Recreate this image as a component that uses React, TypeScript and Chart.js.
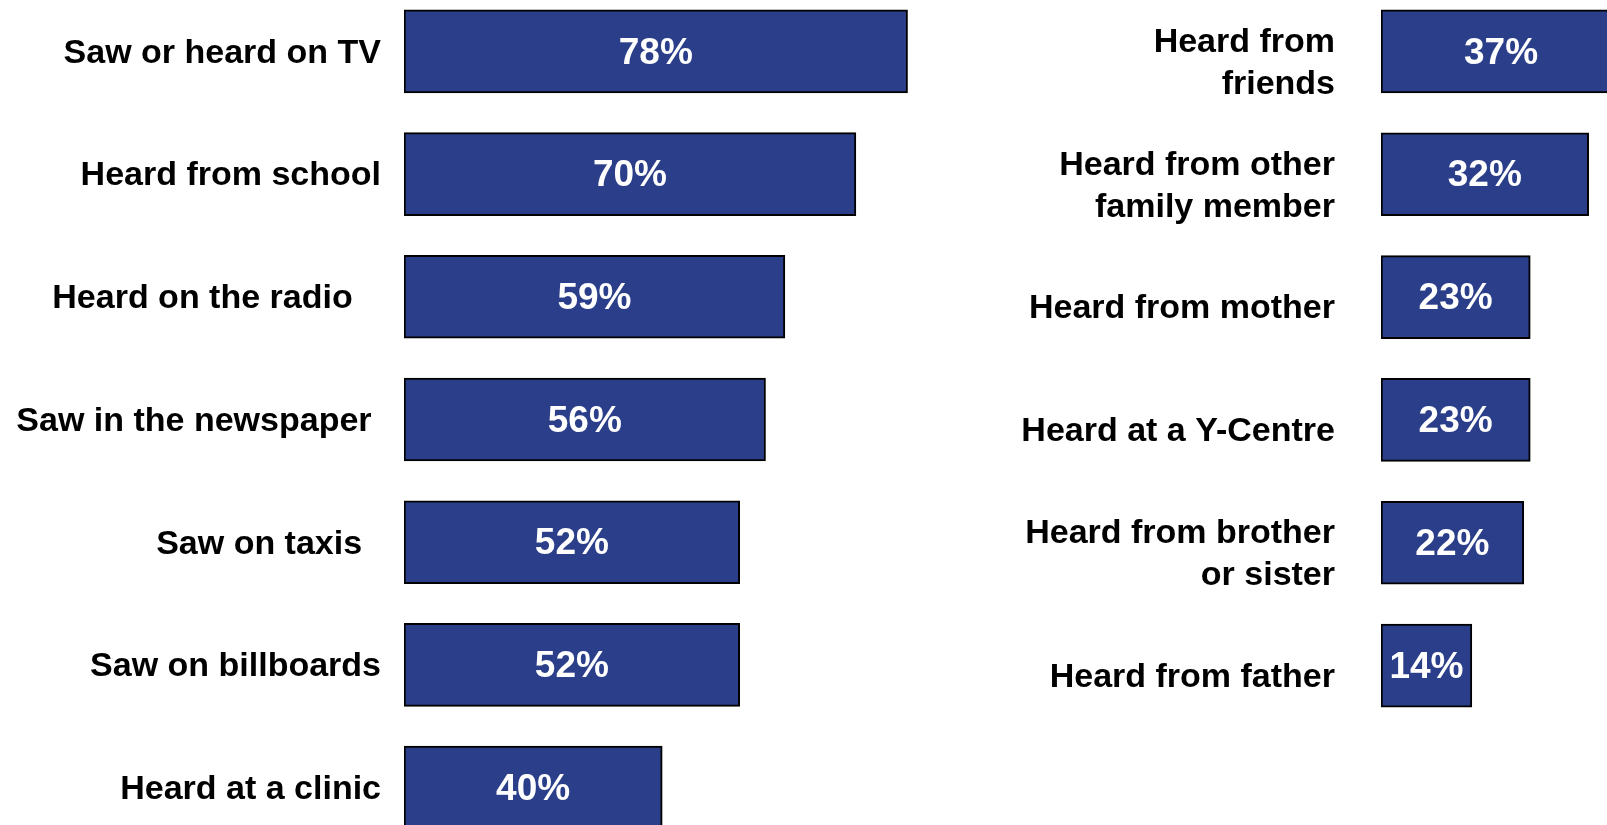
import React, { useEffect, useRef } from 'react';
import { Chart, registerables } from 'chart.js';

Chart.register(...registerables);

// ---- data ----
const leftCategories: (string | string[])[] = [
  'Saw or heard on TV',
  'Heard from school',
  'Heard on the radio   ',
  'Saw in the newspaper ',
  'Saw on taxis  ',
  'Saw on billboards',
  'Heard at a clinic',
];
const leftValues = [78, 70, 59, 56, 52, 52, 40];

const rightCategories: (string | string[])[] = [
  ['Heard from', 'friends'],
  ['Heard from other', 'family member'],
  'Heard from mother',
  'Heard at a Y-Centre',
  ['Heard from brother', 'or sister'],
  'Heard from father',
];
const rightValues = [37, 32, 23, 23, 22, 14];

// ---- styles ----
const BAR_COLOR = '#2b3e89';
const FONT = '"Liberation Sans", Arial, Helvetica, sans-serif';

const valueLabelPlugin = {
  id: 'valueLabels',
  afterDatasetsDraw(chart: any) {
    const ctx = chart.ctx;
    ctx.save();
    ctx.fillStyle = '#ffffff';
    ctx.font = `bold 37px ${FONT}`;
    ctx.textAlign = 'center';
    ctx.textBaseline = 'middle';
    chart.data.datasets.forEach((ds: any, di: number) => {
      const meta = chart.getDatasetMeta(di);
      meta.data.forEach((el: any, i: number) => {
        const { x, y, base } = el.getProps(['x', 'y', 'base'], true);
        ctx.fillText(`${ds.data[i]}%`, (x + base) / 2, y + 2);
      });
    });
    ctx.restore();
  },
};

type PanelProps = {
  labels: (string | string[])[];
  values: number[];
  left: number;
  top: number;
  width: number;
  height: number;
  axisWidth: number;
  max: number;
  tickPadding: number;
  labelOffset: number;
};

function Panel(p: PanelProps) {
  const ref = useRef<HTMLCanvasElement | null>(null);
  useEffect(() => {
    if (!ref.current) return;
    const chart = new Chart(ref.current, {
      type: 'bar',
      data: {
        labels: p.labels as any,
        datasets: [
          {
            data: p.values,
            backgroundColor: BAR_COLOR,
            borderColor: '#000000',
            borderWidth: 2,
            borderSkipped: false,
            barThickness: 83,
          },
        ],
      },
      options: {
        indexAxis: 'y',
        responsive: false,
        maintainAspectRatio: false,
        animation: false,
        devicePixelRatio: 1,
        layout: { padding: 0 },
        plugins: {
          legend: { display: false },
          tooltip: { enabled: false },
        },
        scales: {
          x: {
            display: false,
            min: 0,
            max: p.max,
          },
          y: {
            grid: { display: false, drawTicks: false },
            border: { display: false },
            ticks: {
              color: '#000000',
              padding: p.tickPadding,
              labelOffset: p.labelOffset,
              autoSkip: false,
              font: { family: FONT, size: 34, weight: 'bold', lineHeight: 1.24 },
            },
            afterFit: (scale: any) => {
              scale.width = p.axisWidth;
              scale.paddingTop = 0;
              scale.paddingBottom = 0;
            },
          },
        },
      },
      plugins: [valueLabelPlugin],
    } as any);
    return () => chart.destroy();
  }, []);
  return (
    <canvas
      ref={ref}
      width={p.width}
      height={p.height}
      style={{ position: 'absolute', left: p.left, top: p.top, width: p.width, height: p.height }}
    />
  );
}

export default function App() {
  return (
    <div
      style={{
        position: 'fixed',
        left: 0,
        top: 0,
        width: 1607,
        height: 825,
        overflow: 'hidden',
        background: '#ffffff',
      }}
    >
      <Panel
        labels={leftCategories}
        values={leftValues}
        left={0}
        top={-10}
        width={985}
        height={859}
        axisWidth={404}
        max={90}
        tickPadding={23}
        labelOffset={2}
      />
      <Panel
        labels={rightCategories}
        values={rightValues}
        left={981}
        top={-10}
        width={692}
        height={737}
        axisWidth={400}
        max={45}
        tickPadding={46}
        labelOffset={12}
      />
    </div>
  );
}
